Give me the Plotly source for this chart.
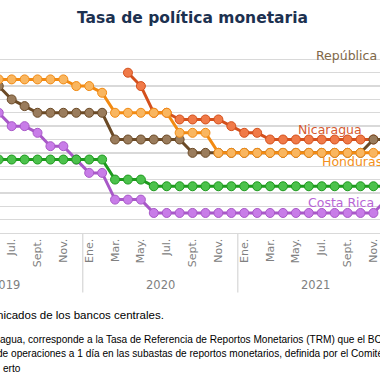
import plotly.graph_objects as go

# ---------------- data ----------------
month_abbr = ["Ene.", "Feb.", "Mar.", "Abr.", "May.", "Jun.",
              "Jul.", "Ago.", "Sept.", "Oct.", "Nov.", "Dic."]
years = ["2019", "2020", "2021"]
# month index: 0 = Ene. 2019 ... 35 = Dic. 2021 ; data from May 2019 (4)
x_months = list(range(4, 36))

rep_dom = [5.5, 5.5, 5.0, 4.75, 4.5, 4.5, 4.5, 4.5,
           4.5, 4.5, 3.5, 3.5, 3.5, 3.5, 3.5, 3.5, 3.0, 3.0, 3.0, 3.0,
           3.0, 3.0, 3.0, 3.0, 3.0, 3.0, 3.0, 3.0, 3.0, 3.0, 3.5, 3.5]
nicaragua = [None, None, None, None, None, None, None, None,
             None, None, None, 6.0, 5.5, 4.5, 4.5, 4.25, 4.25, 4.25, 4.25, 4.0,
             3.75, 3.75, 3.5, 3.5, 3.5, 3.5, 3.5, 3.5, 3.5, 3.5, 3.5, 3.5]
honduras = [5.75, 5.75, 5.75, 5.75, 5.75, 5.75, 5.75, 5.5,
            5.5, 5.25, 4.5, 4.5, 4.5, 4.5, 4.5, 3.75, 3.75, 3.75, 3.0, 3.0,
            3.0, 3.0, 3.0, 3.0, 3.0, 3.0, 3.0, 3.0, 3.0, 3.0, 3.0, 3.0]
guatemala = [2.75, 2.75, 2.75, 2.75, 2.75, 2.75, 2.75, 2.75,
             2.75, 2.75, 2.0, 2.0, 2.0, 1.75, 1.75, 1.75, 1.75, 1.75, 1.75, 1.75,
             1.75, 1.75, 1.75, 1.75, 1.75, 1.75, 1.75, 1.75, 1.75, 1.75, 1.75, 1.75]
costa_rica = [4.75, 4.5, 4.0, 4.0, 3.75, 3.25, 3.25, 2.75,
              2.25, 2.25, 1.25, 1.25, 1.25, 0.75, 0.75, 0.75, 0.75, 0.75, 0.75, 0.75,
              0.75, 0.75, 0.75, 0.75, 0.75, 0.75, 0.75, 0.75, 0.75, 0.75, 0.75, 1.25]

tick_vals = list(range(0, 36, 2))
tick_text = [month_abbr[v % 12] for v in tick_vals]

# ---------------- figure ----------------
W, H = 380, 380
PLOT_TOP, PLOT_BOT = 46.0, 232.7
PH = PLOT_BOT - PLOT_TOP
X0, PXM = 5.096, 12.92           # month index at left edge, px per month
X1 = X0 + W / PXM


def py(p):
    return (PLOT_BOT - p) / PH


CHART_FONT = "DejaVu Sans"

series = [
    ("Nicaragua", nicaragua, "#d4501c", "#f07a48"),
    ("República Dominicana", rep_dom, "#6b4a26", "#9a7c5c"),
    ("Honduras", honduras, "#f28a12", "#f9b660"),
    ("Costa Rica", costa_rica, "#a858c8", "#c87ce8"),
    ("Guatemala", guatemala, "#1d9a1d", "#4cc24c"),
]

fig = go.Figure()
for name, vals, lc, mc in series:
    fig.add_trace(go.Scatter(
        x=x_months, y=vals, name=name, mode="lines+markers",
        line=dict(color=lc, width=3),
        marker=dict(size=9, color=mc, line=dict(color=lc, width=1)),
        connectgaps=False, showlegend=False, hoverinfo="skip",
    ))

labels = [
    ("República Dominicana", 314, 55, "#806848"),
    ("Nicaragua", 296, 129.3, "#d65a30"),
    ("Honduras", 319.5, 161.7, "#f39020"),
    ("Costa Rica", 306, 202.7, "#b866d6"),
]
for txt, lx, ly, col in labels:
    fig.add_annotation(x=lx / W, y=py(ly), xref="paper", yref="paper",
                       text=txt, showarrow=False, xanchor="left", yanchor="middle",
                       font=dict(family=CHART_FONT, size=12.5, color=col))

# year labels and separators
for k, yr in enumerate(years):
    fig.add_annotation(x=12 * k + 5.5, y=py(284.3), xref="x", yref="paper",
                       text=yr, showarrow=False, xanchor="center", yanchor="middle",
                       font=dict(family=CHART_FONT, size=11.5, color="#808080"))
    fig.add_shape(type="line", xref="x", yref="paper",
                  x0=12 * k + 11.5, x1=12 * k + 11.5, y0=0, y1=py(292),
                  line=dict(color="#d9d9d9", width=1.3))

# footer text
FOOT = "Liberation Sans, Arial, sans-serif"
footer = [
    ("nicados de los bancos centrales.", -4, 315, 11.5),
    ("agua, corresponde a la Tasa de Referencia de Reportos Monetarios (TRM) que el BCN", -1.5, 339.5, 10.1),
    ("de operaciones a 1 día en las subastas de reportos monetarios, definida por el Comité", -4, 353.5, 10.1),
    ("erto", 2, 367.5, 10.1),
]
for txt, fx, fy, fs in footer:
    fig.add_annotation(x=fx / W, y=py(fy), xref="paper", yref="paper",
                       text=txt, showarrow=False, xanchor="left", yanchor="middle",
                       borderpad=0,
                       font=dict(family=FOOT, size=fs, color="#000000"))

fig.update_layout(
    width=W, height=H,
    margin=dict(l=0, r=0, t=PLOT_TOP, b=H - PLOT_BOT, pad=0),
    paper_bgcolor="white", plot_bgcolor="white",
    hovermode=False,
    title=dict(text="<b>Tasa de política monetaria</b>", x=192.5 / W, xanchor="center",
               y=1 - 18 / H, yanchor="middle", yref="container",
               font=dict(family=CHART_FONT, size=15.5, color="#1c3150")),
    xaxis=dict(range=[X0, X1], tickmode="array", tickvals=tick_vals, ticktext=tick_text,
               tickangle=-90, showgrid=False, zeroline=False, showline=True,
               linecolor="#d9d9d9", linewidth=1.3, ticks="", automargin=False,
               ticklabeloverflow="allow",
               tickfont=dict(family=CHART_FONT, size=11, color="#808080")),
    yaxis=dict(range=[0, 7], dtick=0.5, showticklabels=False, showgrid=True,
               gridcolor="#d9d9d9", gridwidth=1.3, zeroline=False, automargin=False),
)

fig.write_html(
    "out.html",
    config={"displayModeBar": False, "staticPlot": True},
    post_script="document.body.style.margin='0';document.body.style.overflow='hidden';",
)
